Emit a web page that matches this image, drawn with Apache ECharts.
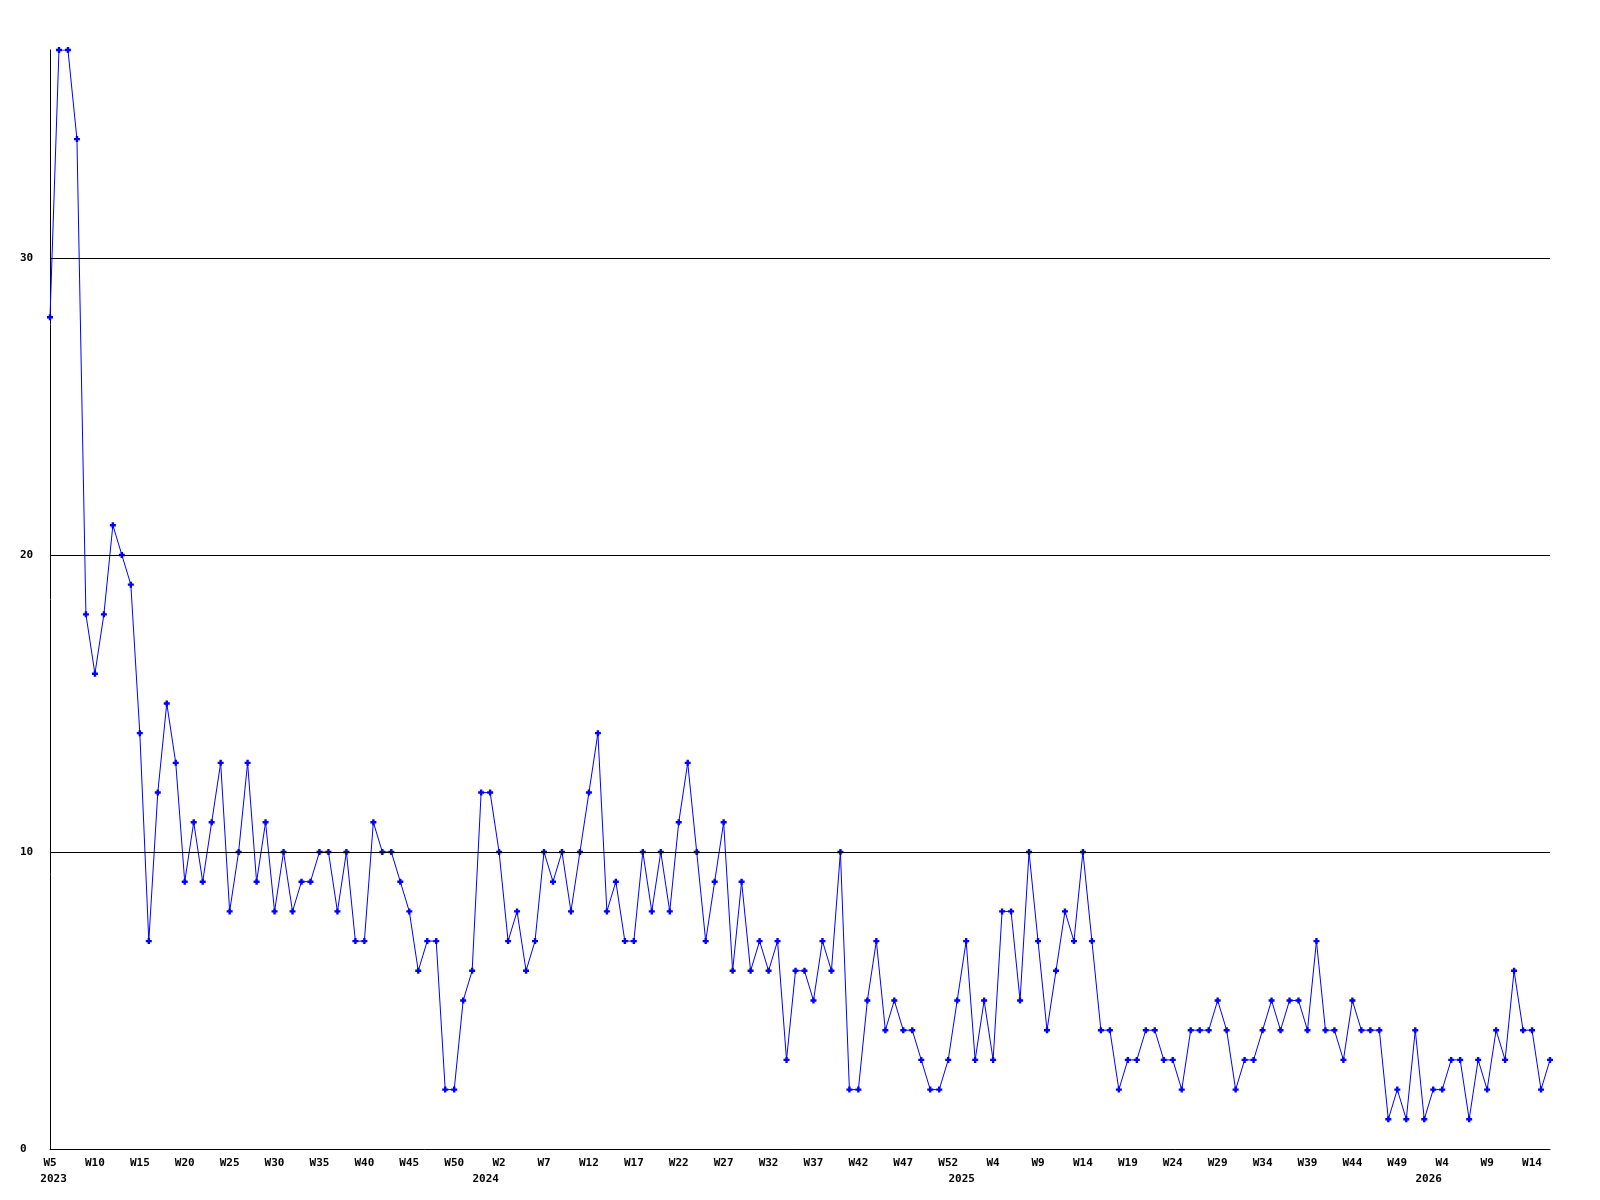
<!DOCTYPE html>
<html>
<head>
<meta charset="utf-8">
<style>
  html, body { margin: 0; padding: 0; background: #fff; }
  #chart { width: 1600px; height: 1200px; }
</style>
<script src="https://cdn.jsdelivr.net/npm/echarts@6/dist/echarts.min.js"></script>
</head>
<body>
<div id="chart"></div>
<script>
// week labels shown every 5th point
const weekTicks = [
  "W5", "W10", "W15", "W20", "W25", "W30", "W35", "W40", "W45", "W50",
  "W2", "W7", "W12", "W17", "W22", "W27", "W32", "W37", "W42", "W47", "W52",
  "W4", "W9", "W14", "W19", "W24", "W29", "W34", "W39", "W44", "W49",
  "W4", "W9", "W14"
];
const yearLabels = ["2023", "2024", "2025", "2026"];
const yearPositions = [0.4, 48.5, 101.5, 153.5];
const yTicks = [0, 10, 20, 30];

// one value per week, starting 2023 W5
const counts = [
  28, 37, 37, 34, 18, 16, 18, 21, 20, 19,
  14, 7, 12, 15, 13, 9, 11, 9, 11, 13,
  8, 10, 13, 9, 11, 8, 10, 8, 9, 9,
  10, 10, 8, 10, 7, 7, 11, 10, 10, 9,
  8, 6, 7, 7, 2, 2, 5, 6, 12, 12,
  10, 7, 8, 6, 7, 10, 9, 10, 8, 10,
  12, 14, 8, 9, 7, 7, 10, 8, 10, 8,
  11, 13, 10, 7, 9, 11, 6, 9, 6, 7,
  6, 7, 3, 6, 6, 5, 7, 6, 10, 2,
  2, 5, 7, 4, 5, 4, 4, 3, 2, 2,
  3, 5, 7, 3, 5, 3, 8, 8, 5, 10,
  7, 4, 6, 8, 7, 10, 7, 4, 4, 2,
  3, 3, 4, 4, 3, 3, 2, 4, 4, 4,
  5, 4, 2, 3, 3, 4, 5, 4, 5, 5,
  4, 7, 4, 4, 3, 5, 4, 4, 4, 1,
  2, 1, 4, 1, 2, 2, 3, 3, 1, 3,
  2, 4, 3, 6, 4, 4, 2, 3
];

const FONT = '"DejaVu Sans Mono", "Liberation Mono", monospace';
const lastIndex = counts.length - 1;
const yMax = Math.max(...counts);

// small plus marker like the original gd-style plot
const PLUS = "path://M1.5,0H3.5V1.5H5V3.5H3.5V5H1.5V3.5H0V1.5H1.5Z";

const chart = echarts.init(document.getElementById("chart"));

const labelStyle = {
  color: "#000",
  fontFamily: FONT,
  fontWeight: "bold",
  fontSize: 11
};

chart.setOption({
  animation: false,
  backgroundColor: "#fff",
  grid: { left: 50, right: 50, top: 50, bottom: 51 },
  xAxis: [
    {
      type: "value",
      position: "bottom",
      min: 0,
      max: lastIndex,
      interval: 5,
      axisLine: { show: true, lineStyle: { color: "#000", width: 1 } },
      axisTick: { show: false },
      splitLine: { show: false },
      axisLabel: {
        ...labelStyle,
        margin: 9,
        showMaxLabel: false,
        formatter: (v) => (v % 5 === 0 ? weekTicks[v / 5] || "" : "")
      }
    },
    {
      type: "value",
      position: "bottom",
      min: 0,
      max: lastIndex,
      axisLine: { show: false },
      axisTick: { show: false },
      splitLine: { show: false },
      axisLabel: {
        ...labelStyle,
        margin: 25,
        customValues: yearPositions,
        formatter: (v) => {
          const i = yearPositions.indexOf(v);
          return i >= 0 ? yearLabels[i] : "";
        }
      }
    }
  ],
  yAxis: {
    type: "value",
    min: 0,
    max: yMax,
    interval: 10,
    axisLine: { show: true, lineStyle: { color: "#000", width: 1 } },
    axisTick: { show: false },
    splitLine: { show: false },
    axisLabel: {
      ...labelStyle,
      align: "left",
      margin: 30,
      showMaxLabel: false
    }
  },
  series: [
    {
      type: "line",
      xAxisIndex: 0,
      data: counts.map((v, i) => [i, v]),
      symbol: PLUS,
      symbolSize: 6,
      showAllSymbol: true,
      itemStyle: { color: "#0000ff" },
      lineStyle: { color: "#0000ff", width: 1 },
      markLine: {
        silent: true,
        symbol: "none",
        label: { show: false },
        lineStyle: { color: "#000", width: 1, type: "solid" },
        data: yTicks.filter((t) => t > 0).map((t) => ({ yAxis: t }))
      }
    }
  ]
});
</script>
</body>
</html>
